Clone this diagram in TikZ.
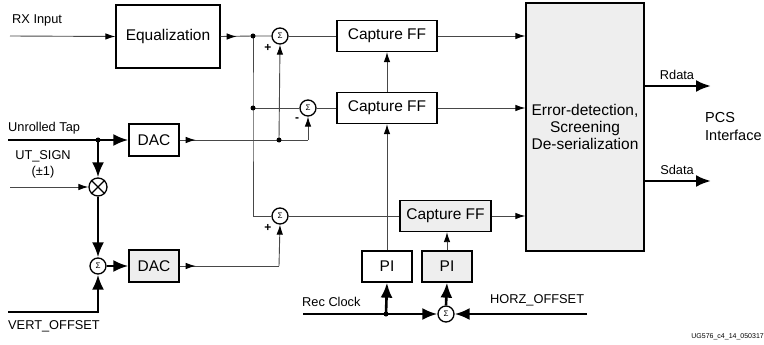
\documentclass[tikz,border=0pt]{standalone}
\usepackage{fontspec}
\setmainfont{Liberation Sans}
\usetikzlibrary{arrows.meta,calc}
\definecolor{ln}{HTML}{484848}
\definecolor{fillg}{HTML}{EEEEEE}
\begin{document}
\begin{tikzpicture}[x=1pt,y=-1pt,
  box/.style={draw=black,line width=1.3pt,inner sep=0pt,font=\fontsize{15.5}{17}\selectfont},
  gbox/.style={box,fill=fillg},
  sumn/.style={circle,draw=black,line width=1.3pt,fill=white,minimum size=16pt,inner sep=0pt,font=\fontsize{8}{8}\selectfont},
  thinl/.style={draw=ln,line width=0.9pt},
  tarr/.style={thinl,-{Latex[length=10pt,width=6.5pt,color=black,fill=black]}},
  thick/.style={draw=black,line width=2.6pt},
  bigarr/.style={thick,-{Latex[length=15pt,width=12pt]}},
  lbl/.style={font=\fontsize{12.8}{14}\selectfont,inner sep=0pt},
  dot/.style={circle,fill=black,inner sep=0pt,minimum size=5pt}
]
\useasboundingbox (0,0) rectangle (764,345);
% boxes
\node[box,minimum width=104pt,minimum height=63pt] (eq) at (168,36.5) {Equalization};
\node[box,minimum width=100pt,minimum height=31pt] (cff1) at (387,36) {Capture FF};
\node[box,minimum width=100pt,minimum height=31pt] (cff2) at (387,108) {Capture FF};
\node[gbox,minimum width=91pt,minimum height=31pt] (cff3) at (445.5,216) {Capture FF};
\node[box,minimum width=50pt,minimum height=32pt] (dac1) at (154,140) {DAC};
\node[gbox,minimum width=50pt,minimum height=32pt] (dac2) at (154,266) {DAC};
\node[box,minimum width=50pt,minimum height=31pt] (pi1) at (387,266.5) {PI};
\node[gbox,minimum width=50pt,minimum height=31pt] (pi2) at (447,266.5) {PI};
\node[gbox,minimum width=118pt,minimum height=248pt,align=center,font=\fontsize{15.5}{17}\selectfont] (big) at (585,127) {Error-detection,\\Screening\\De-serialization};
% sums
\node[sumn] (s1) at (280,36) {Σ};
\node[sumn] (s2) at (308,108) {Σ};
\node[sumn] (s3) at (280,216) {Σ};
\node[sumn] (s4) at (98,266) {Σ};
\node[sumn] (s5) at (446,314) {Σ};
\node[circle,draw=black,line width=1.3pt,fill=white,minimum size=18pt,inner sep=0pt] (mul) at (98,187) {};
\draw[line width=1.3pt] (mul.north east) -- (mul.south west) (mul.north west) -- (mul.south east);
% junctions
\coordinate (j1) at (253,36);
\coordinate (j2) at (253,108);
\coordinate (j3) at (279,140);
\coordinate (j4) at (253,216);
\coordinate (ju) at (98,140);
\coordinate (jr) at (386,314);
\coordinate (rxin) at (10,36);
\coordinate (utin) at (8,140);
\coordinate (sgin) at (10,187);
\coordinate (voin) at (8,312);
\coordinate (vocor) at (98,312);
\coordinate (rcin) at (303,314);
\coordinate (hoin) at (587,314);
\coordinate (d1c) at (308,140);
\coordinate (d2c) at (279,266);
\coordinate (rout) at (711,86);
\coordinate (sout) at (711,181);
% thin connections
\draw[tarr] (rxin) -- (eq.west);
\draw[thinl] (eq.east) -- (j1) -- (s1.west);
\draw[tarr] (eq.east) -- ++(16,0);
\draw[thinl] (j1) -- (j2) -- (j4) -- (s3.west);
\draw[thinl] (j2) -- (s2.west);
\draw[thinl] (s1.east) -- (cff1.west);
\draw[thinl] (s2.east) -- (cff2.west);
\draw[thinl] (s3.east) -- (cff3.west);
\draw[thinl] (dac1.east) -- (d1c);
\draw[tarr] (dac1.east) -- ++(16,0);
\draw[tarr] (d1c) -- (s2.south);
\draw[tarr] (j3) -- (s1.south);
\draw[thinl] (dac2.east) -- (d2c);
\draw[tarr] (dac2.east) -- ++(16,0);
\draw[tarr] (d2c) -- (s3.south);
\draw[tarr] (cff2.north) -- (cff1.south);
\draw[tarr] (pi1.north) -- (pi1.north|-cff2.south);
\draw[tarr] (pi2.north) -- (pi2.north|-cff3.south);
\draw[tarr] (cff1.east) -- (big.west|-cff1.east);
\draw[tarr] (cff2.east) -- (big.west|-cff2.east);
\draw[tarr] (cff3.east) -- (big.west|-cff3.east);
\draw[tarr] (sgin) -- (mul.west);
% thick connections
\draw[bigarr] (utin) -- (dac1.west);
\draw[bigarr] (ju) -- (mul.north);
\draw[bigarr] (mul.south) -- (s4.north);
\draw[thick] (voin) -- (vocor);
\draw[bigarr] ($(vocor)+(0,1.3)$) -- (s4.south);
\draw[bigarr] (s4.east) -- (dac2.west);
\draw[bigarr] (rcin) -- (s5.west);
\draw[bigarr] (jr) -- (pi1.south);
\draw[bigarr] (s5.north) -- (pi2.south);
\draw[bigarr] (hoin) -- (s5.east);
\draw[bigarr] (big.east|-rout) -- (rout);
\draw[bigarr] (big.east|-sout) -- (sout);
% dots
\node[dot] at (j1) {};
\node[dot] at (j2) {};
\node[dot] at (j3) {};
\node[dot] at (ju) {};
\node[dot] at (jr) {};
% labels
\node[lbl,anchor=west] at (12,20) {RX Input};
\node[lbl,anchor=west] at (8,128) {Unrolled Tap};
\node[lbl] at (43,156) {UT\_SIGN};
\node[lbl] at (43,172) {(±1)};
\node[lbl,anchor=west] at (8,326) {VERT\_OFFSET};
\node[lbl,anchor=west] at (302,302) {Rec Clock};
\node[lbl,anchor=west] at (490,300) {HORZ\_OFFSET};
\node[lbl] at (677,75) {Rdata};
\node[lbl] at (677,170) {Sdata};
\node[font=\fontsize{14.5}{18}\selectfont,align=left,anchor=west,inner sep=0pt] at (705,127) {PCS\\Interface};
\node[font=\bfseries\fontsize{12}{12}\selectfont,inner sep=0pt] at (268,48) {+};
\node[font=\bfseries\fontsize{12}{12}\selectfont,inner sep=0pt] at (297,120) {-};
\node[font=\bfseries\fontsize{12}{12}\selectfont,inner sep=0pt] at (268,228) {+};
\node[font=\fontsize{7}{7}\selectfont,anchor=east,inner sep=0pt] at (764,337) {UG576\_c4\_14\_050317};
\end{tikzpicture}
\end{document}
